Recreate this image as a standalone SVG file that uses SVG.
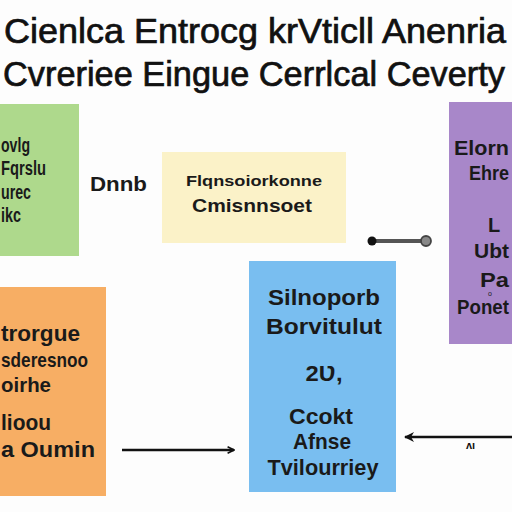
<svg xmlns="http://www.w3.org/2000/svg" width="512" height="512" viewBox="0 0 512 512">
<defs>
<style>
.t{font-family:"Liberation Sans",Arial,sans-serif;font-size:34.5px;fill:#111;stroke:#111;stroke-width:0.7}
.b{font-family:"Liberation Sans",Arial,sans-serif;font-size:20px;font-weight:bold;fill:#1a1a1a}
.c{text-anchor:middle}
</style>
<marker id="open" viewBox="0 0 10 10" refX="9" refY="5" markerWidth="8" markerHeight="8" markerUnits="userSpaceOnUse" orient="auto"><path d="M1,1 L9,5 L1,9" fill="none" stroke="#111" stroke-width="2"/></marker>
<marker id="fill" viewBox="0 0 10 10" refX="9" refY="5" markerWidth="10" markerHeight="10" markerUnits="userSpaceOnUse" orient="auto"><path d="M0,0 L10,5 L0,10 L3,5 Z" fill="#111"/></marker>
</defs>
<rect width="512" height="512" fill="#fdfdfd"/>
<g id="title">
<text class="t" x="4" y="43" textLength="502" lengthAdjust="spacingAndGlyphs">Cienlca Entrocg krVticll Anenria</text>
<text class="t" x="3" y="86" textLength="502" lengthAdjust="spacingAndGlyphs">Cvreriee Eingue Cerrlcal Ceverty</text>
</g>
<g id="green">
<rect x="-2" y="104" width="81" height="152" fill="#aed98c"/>
<text class="b" x="1" y="152" textLength="29" lengthAdjust="spacingAndGlyphs">ovlg</text>
<text class="b" x="1" y="175" textLength="45" lengthAdjust="spacingAndGlyphs">Fqrslu</text>
<text class="b" x="1" y="199" textLength="30" lengthAdjust="spacingAndGlyphs">urec</text>
<text class="b" x="1" y="222" textLength="20" lengthAdjust="spacingAndGlyphs">ikc</text>
</g>
<g id="label-dnnb">
<text class="b" x="90" y="191" textLength="57" lengthAdjust="spacingAndGlyphs">Dnnb</text>
</g>
<g id="yellow">
<rect x="162" y="152" width="184" height="91" fill="#fbf2c8"/>
<text class="b c" x="254" y="186" style="font-size:15px" textLength="136" lengthAdjust="spacingAndGlyphs">Flqnsoiorkonne</text>
<text class="b c" x="252" y="212" style="font-size:19px" textLength="120" lengthAdjust="spacingAndGlyphs">Cmisnnsoet</text>
</g>
<g id="purple">
<rect x="449" y="102" width="65" height="242" fill="#a887c9"/>
<text class="b" x="454" y="155" textLength="55" lengthAdjust="spacingAndGlyphs">Elorn</text>
<text class="b" x="469" y="180" textLength="40" lengthAdjust="spacingAndGlyphs">Ehre</text>
<text class="b" x="488" y="232">L</text>
<text class="b" x="474" y="258" textLength="35" lengthAdjust="spacingAndGlyphs">Ubt</text>
<text class="b" x="480" y="287" textLength="29" lengthAdjust="spacingAndGlyphs">Pa</text>
<text class="b" x="488" y="296" style="font-size:7px;font-weight:normal">o</text>
<text class="b" x="457" y="314" textLength="52" lengthAdjust="spacingAndGlyphs">Ponet</text>
</g>
<g id="orange">
<rect x="-2" y="287" width="108" height="209" fill="#f7ae64"/>
<text class="b" x="1" y="341" style="font-size:22px" textLength="79" lengthAdjust="spacingAndGlyphs">trorgue</text>
<text class="b" x="1" y="367" style="font-size:21px" textLength="87" lengthAdjust="spacingAndGlyphs">sderesnoo</text>
<text class="b" x="1" y="392" style="font-size:21px" textLength="50" lengthAdjust="spacingAndGlyphs">oirhe</text>
<text class="b" x="1" y="430" style="font-size:22px" textLength="50" lengthAdjust="spacingAndGlyphs">lioou</text>
<text class="b" x="1" y="457" style="font-size:22px" textLength="94" lengthAdjust="spacingAndGlyphs">a Oumin</text>
</g>
<g id="blue">
<rect x="249" y="261" width="147" height="231" fill="#79bef0"/>
<text class="b c" x="324" y="305" style="font-size:22px" textLength="112" lengthAdjust="spacingAndGlyphs">Silnoporb</text>
<text class="b c" x="324" y="334" style="font-size:22px" textLength="116" lengthAdjust="spacingAndGlyphs">Borvitulut</text>
<text class="b c" x="324" y="381" style="font-size:22px" textLength="37" lengthAdjust="spacingAndGlyphs">2Ʋ,</text>
<text class="b c" x="321" y="424" style="font-size:22px" textLength="64" lengthAdjust="spacingAndGlyphs">Ccokt</text>
<text class="b c" x="322" y="449" style="font-size:22px" textLength="58" lengthAdjust="spacingAndGlyphs">Afnse</text>
<text class="b c" x="323" y="475" style="font-size:22px" textLength="111" lengthAdjust="spacingAndGlyphs">Tvilourriey</text>
</g>
<g id="connectors">
<line x1="372" y1="241" x2="424" y2="241" stroke="#555" stroke-width="4"/>
<circle cx="372" cy="241" r="4.5" fill="#111"/>
<circle cx="426" cy="241" r="5" fill="#888" stroke="#444" stroke-width="1.8"/>
<line x1="122" y1="450" x2="234" y2="450" stroke="#111" stroke-width="2.5" marker-end="url(#open)"/>
<line x1="512" y1="437" x2="405" y2="437" stroke="#111" stroke-width="2.5" marker-end="url(#fill)"/>
<text x="466" y="449" style="font-family:'Liberation Sans',sans-serif;font-size:11px;font-weight:bold;fill:#111">ʌı</text>
</g>
</svg>
